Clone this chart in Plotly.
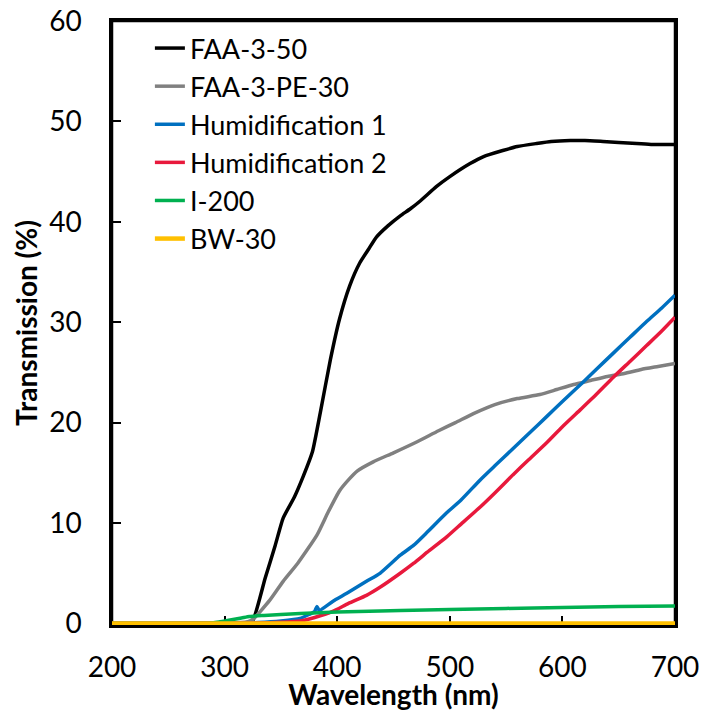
import plotly.graph_objects as go

# ---- data ----
wl_faa50 = [200, 250, 300, 320, 325, 336, 345, 352, 362, 370, 378, 385, 394, 402, 411, 420, 428, 435, 445, 456,
            465, 474, 488, 500, 518, 530, 547, 560, 577, 590, 607, 620, 636, 650, 666, 680, 700]
t_faa50 = [0, 0, 0.05, 0.1, 0.3, 4.5, 7.8, 10.5, 12.6, 14.7, 17.1, 21.0, 26.3, 30.3, 33.6, 35.9, 37.3, 38.5, 39.6, 40.6,
           41.3, 42.1, 43.5, 44.5, 45.8, 46.5, 47.1, 47.5, 47.8, 48.0, 48.1, 48.1, 48.0, 47.9, 47.8, 47.7, 47.7]

wl_pe30 = [200, 250, 300, 320, 325, 340, 352, 365, 382, 392, 402, 410, 418, 432, 450, 471, 490, 505, 521, 540,
           560, 580, 595, 610, 625, 640, 655, 670, 685, 700]
t_pe30 = [0, 0, 0.05, 0.15, 0.4, 2.3, 4.2, 6.0, 8.8, 11.1, 13.2, 14.3, 15.2, 16.1, 17.0, 18.1, 19.2, 20.0, 20.9, 21.8,
          22.4, 22.8, 23.3, 23.8, 24.2, 24.6, 24.9, 25.3, 25.6, 25.9]

wl_hum1 = [200, 250, 300, 330, 350, 367, 375, 380, 382, 384, 396, 410, 426, 438, 456, 468, 480, 497, 510, 527,
           540, 556, 570, 586, 600, 619, 630, 645, 660, 675, 688, 700]
t_hum1 = [0, 0, 0.02, 0.1, 0.25, 0.5, 0.9, 1.2, 1.7, 1.3, 2.2, 3.1, 4.2, 5.0, 6.8, 7.8, 9.1, 11.0, 12.3, 14.3,
          15.7, 17.4, 18.9, 20.6, 22.1, 24.1, 25.3, 26.9, 28.5, 30.1, 31.4, 32.7]

wl_hum2 = [200, 250, 300, 330, 350, 367, 380, 396, 410, 426, 438, 456, 468, 480, 497, 510, 527, 540, 556, 570,
           586, 600, 616, 630, 645, 660, 675, 688, 700]
t_hum2 = [0, 0, 0.02, 0.05, 0.12, 0.25, 0.6, 1.2, 2.0, 2.8, 3.6, 5.0, 6.0, 7.1, 8.6, 9.9, 11.6, 13.0, 14.8, 16.3,
          18.0, 19.6, 21.3, 22.8, 24.5, 26.1, 27.7, 29.1, 30.5]

wl_i200 = [200, 250, 285, 295, 305, 315, 322, 335, 350, 367, 400, 438, 456, 500, 550, 600, 650, 700]
t_i200 = [0, 0, 0, 0.15, 0.35, 0.55, 0.7, 0.8, 0.9, 1.0, 1.15, 1.25, 1.3, 1.4, 1.5, 1.6, 1.68, 1.75]

wl_bw30 = [200, 250, 300, 350, 400, 450, 500, 550, 600, 650, 700]
t_bw30 = [0, 0, 0, 0, 0, 0, 0, 0, 0, 0, 0]

x_ticks = [200, 300, 400, 500, 600, 700]
y_ticks = [0, 10, 20, 30, 40, 50, 60]

series = [
    ("FAA-3-50", wl_faa50, t_faa50, "#000000", 3.5),
    ("FAA-3-PE-30", wl_pe30, t_pe30, "#808080", 3.5),
    ("Humidification 1", wl_hum1, t_hum1, "#0070C0", 3.5),
    ("Humidification 2", wl_hum2, t_hum2, "#E8193C", 3.5),
    ("I-200", wl_i200, t_i200, "#00B050", 3.5),
    ("BW-30", wl_bw30, t_bw30, "#FFC000", 4.5),
]

FONT = "Lato"
FS = 28
LEG_FS = 27

fig = go.Figure()
for name, xs, ys, col, w in series:
    fig.add_trace(go.Scatter(x=xs, y=ys, mode="lines", name=name,
                             line=dict(color=col, width=w, shape="spline", smoothing=0.5)))

axis_common = dict(showline=True, linecolor="black", linewidth=2.5, mirror=True,
                   ticks="inside", ticklen=9, tickwidth=2, tickcolor="black",
                   showgrid=False, zeroline=False, automargin=False,
                   ticklabeloverflow="allow",
                   tickfont=dict(family=FONT, size=FS, color="black"),
                   layer="below traces")

fig.update_layout(
    width=701, height=711,
    margin=dict(l=112, r=26, t=21, b=86),
    paper_bgcolor="white", plot_bgcolor="white",
    font=dict(family=FONT, size=FS, color="black"),
    xaxis=dict(range=[200, 700], tickvals=x_ticks, ticklabelstandoff=16,
               title=dict(text="<b>Wavelength (nm)</b>", font=dict(family=FONT, size=FS), standoff=8),
               **axis_common),
    yaxis=dict(range=[-0.15, 60], tickvals=y_ticks, ticklabelstandoff=22,
               title=dict(text="<b>Transmission (%)</b>", font=dict(family=FONT, size=FS), standoff=4),
               **axis_common),
    legend=dict(x=0.0673, y=0.995, xanchor="left", yanchor="top",
                bgcolor="rgba(0,0,0,0)", font=dict(family=FONT, size=LEG_FS, color="black")),
    showlegend=True,
)

# plot-area frame (the box around the chart)
fig.add_shape(type="rect", xref="paper", yref="paper", x0=0, y0=0, x1=1, y1=1,
              line=dict(color="black", width=2.5), fillcolor="rgba(0,0,0,0)", layer="below")

# remove the default 8px page margin so the figure sits at the window's corner
fig.write_html("out.html", config={"displayModeBar": False},
               post_script="document.body.style.margin='0';document.body.style.overflow='hidden';")
